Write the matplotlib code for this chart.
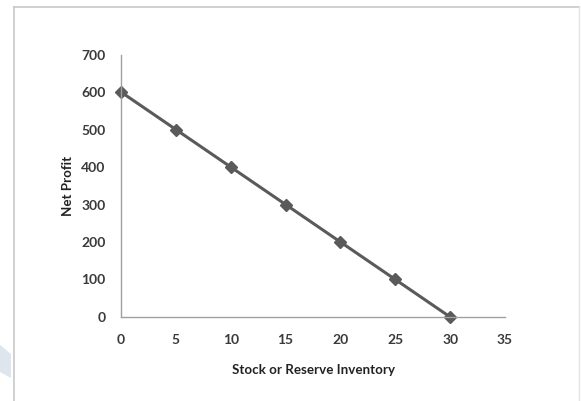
import matplotlib
matplotlib.use('Agg')
import matplotlib.pyplot as plt
from matplotlib.patches import Polygon
from matplotlib.lines import Line2D

# stock level vs. resulting net profit
stock = [0, 5, 10, 15, 20, 25, 30]
net_profit = [600, 500, 400, 300, 200, 100, 0]
x_ticks = [0, 5, 10, 15, 20, 25, 30, 35]
y_ticks = [0, 100, 200, 300, 400, 500, 600, 700]

plt.rcParams['font.family'] = ['Lato', 'DejaVu Sans']

fig = plt.figure(figsize=(5.81, 4.01), dpi=100)
ax = fig.add_axes([0.2083, 0.2095, 0.6609, 0.6545])

ax.plot(stock, net_profit, color='#5a5a5a', linewidth=2.2,
        marker='D', markersize=6.5, markerfacecolor='#5a5a5a',
        markeredgecolor='#5a5a5a')

ax.set_xlim(0, 35)
ax.set_ylim(0, 700)
ax.set_xticks(x_ticks)
ax.set_yticks(y_ticks)
ax.tick_params(length=0, labelsize=10, labelcolor='#3a3a3a')
ax.tick_params(axis='x', pad=12)
ax.tick_params(axis='y', pad=11)
for lbl in ax.get_xticklabels() + ax.get_yticklabels():
    lbl.set_fontweight('bold')

for side in ('top', 'right'):
    ax.spines[side].set_visible(False)
for side in ('left', 'bottom'):
    ax.spines[side].set_color('#a0a0a0')
    ax.spines[side].set_linewidth(1.0)
ax.set_zorder(2)
ax.patch.set_alpha(0)
for line in ax.get_lines():
    line.set_clip_on(False)

ax.set_xlabel('Stock or Reserve Inventory', fontsize=9.6, fontweight='bold',
              color='#222222', labelpad=13)
ax.set_ylabel('Net Profit', fontsize=9.6, fontweight='bold',
              color='#222222', labelpad=5)

# chart frame (open at the bottom)
W, H = 581, 401
frame = '#c8c8c8'
fig.add_artist(Line2D([14 / W, 14 / W], [0, 1 - 6.5 / H], color=frame, lw=1.2,
                      transform=fig.transFigure))
fig.add_artist(Line2D([14 / W, 579 / W], [1 - 6.5 / H, 1 - 6.5 / H], color=frame,
                      lw=1.2, transform=fig.transFigure))
fig.add_artist(Line2D([579 / W, 579 / W], [0, 1 - 6.5 / H], color='#e4e4e4',
                      lw=1.0, transform=fig.transFigure))

# faint shape at the lower left edge
pts = [(0, 345), (11, 354), (11, 378), (0, 372)]
fig.add_artist(Polygon([(px / W, 1 - py / H) for px, py in pts], closed=True,
                       facecolor='#dfe5ec', edgecolor='none',
                       transform=fig.transFigure))

fig.savefig('out.png', dpi=100)
